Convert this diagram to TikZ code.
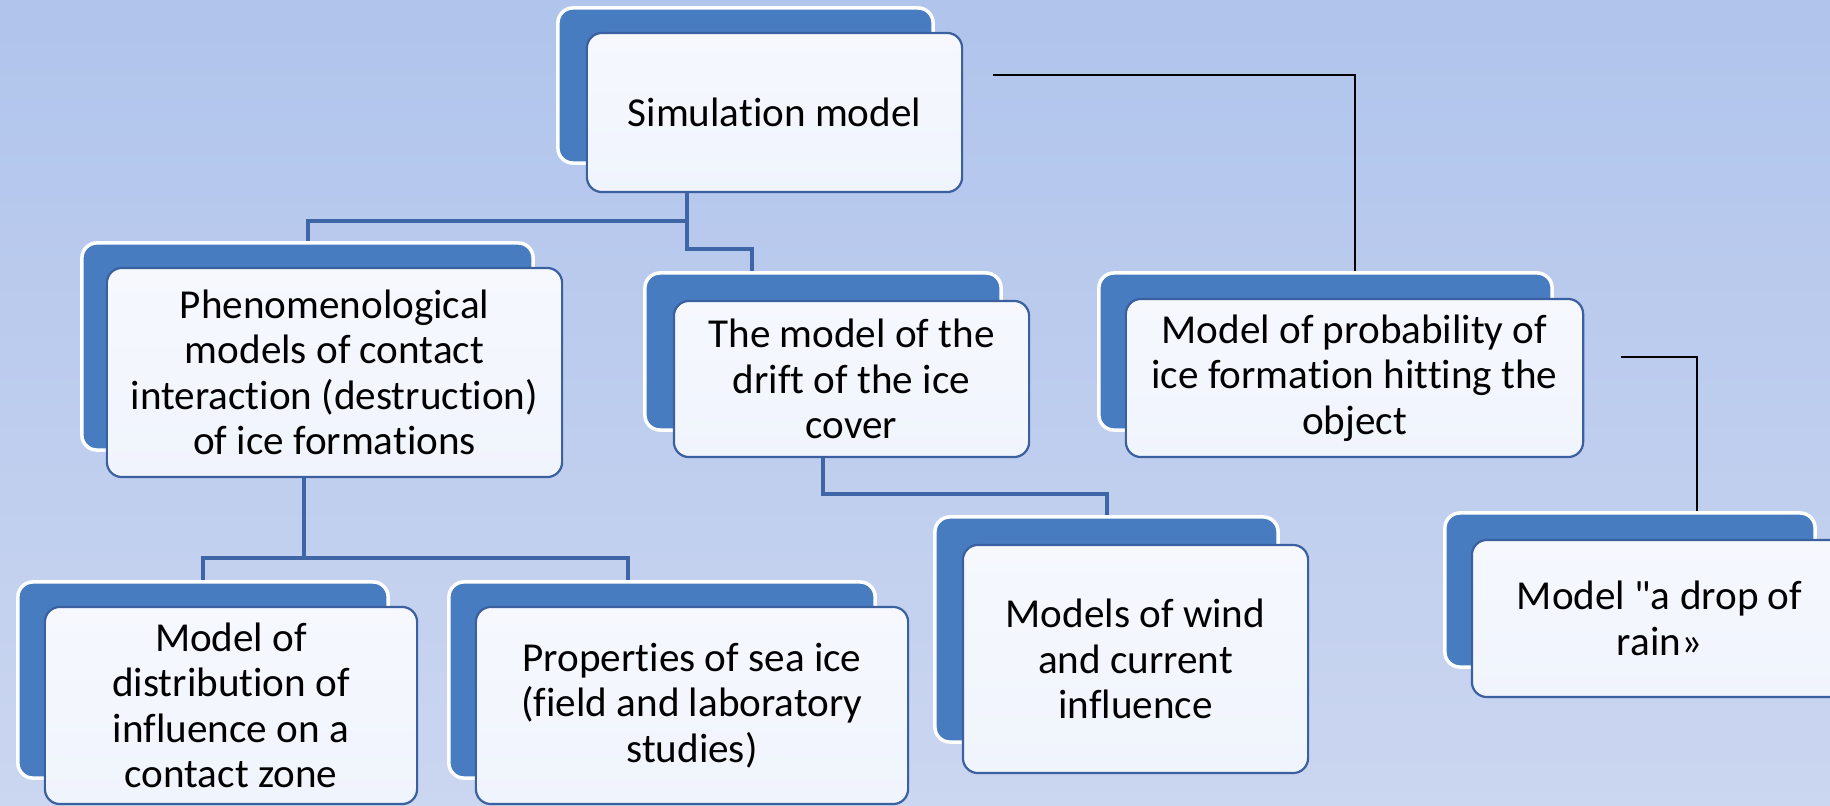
\documentclass[tikz,border=0pt]{standalone}
\usepackage{fontspec}
\setmainfont{Carlito}[Ligatures={NoCommon,TeXOff}]
\usepackage{tikz}
\usetikzlibrary{calc,positioning}
\definecolor{bgtop}{RGB}{176,196,236}
\definecolor{bgbottom}{RGB}{203,214,240}
\definecolor{backblue}{RGB}{72,124,192}
\definecolor{edgeblue}{RGB}{58,96,160}
\definecolor{linkblue}{RGB}{62,102,166}
\definecolor{fronttop}{RGB}{246,248,254}
\definecolor{frontbottom}{RGB}{240,244,252}

\tikzset{
  backbox/.style={rectangle,rounded corners=0.15cm,fill=backblue,draw=white,line width=0.035cm,inner sep=0pt},
  frontbox/.style={rectangle,rounded corners=0.15cm,top color=fronttop,middle color=white,bottom color=frontbottom,
    draw=edgeblue,line width=0.022cm,inner sep=0pt,align=center,font=\fontsize{11.7}{12.9}\selectfont},
  link/.style={linkblue,line width=0.04cm},
  feed/.style={black,line width=0.02cm}
}

\begin{document}
\begin{tikzpicture}[x=0.01cm,y=-0.01cm]
  \useasboundingbox (0,0) rectangle (1830,806);
  \shade[top color=bgtop,bottom color=bgbottom] (0,0) rectangle (1830,806);
  \clip (0,0) rectangle (1830,806);

  % back cards
  \node[backbox,minimum width=3.75cm,minimum height=1.55cm] (simB) at (745.5,85.5) {};
  \node[backbox,minimum width=4.51cm,minimum height=2.07cm] (phenB) at (307.5,346.5) {};
  \node[backbox,minimum width=3.56cm,minimum height=1.57cm] (driftB) at (823,351.5) {};
  \node[backbox,minimum width=4.53cm,minimum height=1.57cm] (probB) at (1325.5,351.5) {};
  \node[backbox,minimum width=3.70cm,minimum height=1.96cm] (distB) at (203,680) {};
  \node[backbox,minimum width=4.26cm,minimum height=1.96cm] (propB) at (662,680) {};
  \node[backbox,minimum width=3.43cm,minimum height=2.25cm] (windB) at (1106.5,629.5) {};
  \node[backbox,minimum width=3.70cm,minimum height=1.54cm] (rainB) at (1630,590) {};

  % front cards
  \node[frontbox,minimum width=3.75cm,minimum height=1.59cm] (sim) at (774.5,112.5) {Simulation model};
  \node[frontbox,minimum width=4.55cm,minimum height=2.09cm] (phen) at (334.5,372.5)
    {Phenomenological\\models of contact\\interaction (destruction)\\of ice formations};
  \node[frontbox,minimum width=3.55cm,minimum height=1.56cm] (drift) at (851.5,379)
    {The model of the\\drift of the ice\\cover};
  \node[frontbox,minimum width=4.57cm,minimum height=1.58cm] (prob) at (1354.5,378)
    {Model of probability of\\ice formation hitting the\\object};
  \node[frontbox,minimum width=3.72cm,minimum height=1.97cm] (dist) at (231,705.5)
    {Model of\\distribution of\\influence on a\\contact zone};
  \node[frontbox,minimum width=4.32cm,minimum height=1.97cm] (prop) at (692,705.5)
    {Properties of sea ice\\(field and laboratory\\studies)};
  \node[frontbox,minimum width=3.45cm,minimum height=2.28cm] (wind) at (1135.5,659)
    {Models of wind\\and current\\influence};
  \node[frontbox,minimum width=3.75cm,minimum height=1.57cm] (rain) at (1659.5,618.5)
    {Model "a drop of\\rain»};

  % connectors
  \coordinate (simOut) at ($(sim.south west)!.267!(sim.south east)$);
  \draw[link] (simOut) -- ++(0,28) -| (phenB.north);
  \draw[link] (simOut) -- ++(0,56) -| ($(driftB.north west)!.303!(driftB.north east)$);
  \draw[feed] ([shift={(30,43)}]sim.north east) -| ($(probB.north west)!.565!(probB.north east)$);
  \draw[link] ($(phen.south west)!.433!(phen.south east)$) -- ++(0,80) coordinate (phenJ);
  \draw[link] (distB.north) |- (phenJ) -| ($(propB.north west)!.42!(propB.north east)$);
  \draw[link] ($(drift.south west)!.42!(drift.south east)$) -- ++(0,36) -| (windB.north);
  \draw[feed] ([shift={(37,59)}]prob.north east) -| ($(rainB.north west)!.678!(rainB.north east)$);
\end{tikzpicture}
\end{document}
